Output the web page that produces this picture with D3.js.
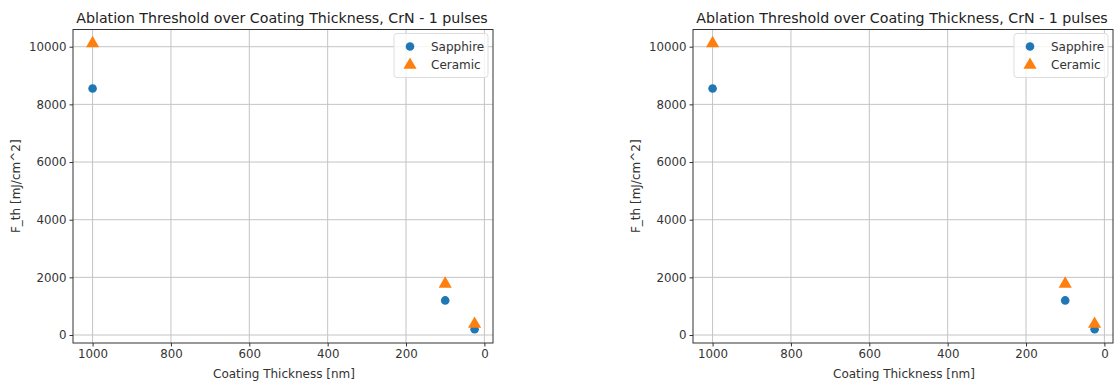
<!DOCTYPE html>
<html>
<head>
<meta charset="utf-8">
<script src="https://cdn.jsdelivr.net/npm/d3@7"></script>
<style>
  body { margin: 0; background: #fff; }
  svg { display: block; font-family: "DejaVu Sans", sans-serif; }
</style>
</head>
<body>
<svg id="chart" width="1116" height="383"></svg>
<script>
const thickness = [1000, 100, 25];
const sapphire = [8550, 1200, 200];
const ceramic = [10130, 1790, 400];
const xTicks = [1000, 800, 600, 400, 200, 0];
const yTicks = [0, 2000, 4000, 6000, 8000, 10000];
const seriesNames = ["Sapphire", "Ceramic"];
const titleText = "Ablation Threshold over Coating Thickness, CrN - 1 pulses";
const xLabel = "Coating Thickness [nm]";
const yLabel = "F_th [mJ/cm^2]";

const svg = d3.select("#chart");
const panelOffsets = [0, 620];
const blue = "#1f77b4", orange = "#ff7f0e";

panelOffsets.forEach(off => {
  const left = 73 + off, right = 493 + off, top = 29.5, bottom = 343;
  const x = d3.scaleLinear().domain([1050, -22]).range([left, right]);
  const y = d3.scaleLinear().domain([-277, 10597]).range([bottom, top]);
  const g = svg.append("g");

  // grid
  g.selectAll(".gx").data(xTicks).join("line")
    .attr("x1", d => x(d)).attr("x2", d => x(d))
    .attr("y1", top).attr("y2", bottom)
    .attr("stroke", "#c4c4c4").attr("stroke-width", 1);
  g.selectAll(".gy").data(yTicks).join("line")
    .attr("y1", d => y(d)).attr("y2", d => y(d))
    .attr("x1", left).attr("x2", right)
    .attr("stroke", "#c4c4c4").attr("stroke-width", 1);

  // axes
  const fmt = d3.format("d");
  const xAxis = d3.axisBottom(x).tickValues(xTicks).tickFormat(fmt).tickSize(3.5).tickPadding(3);
  const yAxis = d3.axisLeft(y).tickValues(yTicks).tickFormat(fmt).tickSize(3.5).tickPadding(3);
  const gx = g.append("g").attr("transform", `translate(0,${bottom})`).call(xAxis);
  const gy = g.append("g").attr("transform", `translate(${left},0)`).call(yAxis);
  [gx, gy].forEach(a => {
    a.select(".domain").remove();
    a.selectAll("line").attr("stroke", "#333");
    a.selectAll("text").attr("fill", "#333").style("font-size", "11.8px")
      .style("font-family", "DejaVu Sans, sans-serif");
  });

  // frame
  g.append("rect").attr("x", left).attr("y", top)
    .attr("width", right - left).attr("height", bottom - top)
    .attr("fill", "none").attr("stroke", "#333").attr("stroke-width", 1);

  // data
  const tri = d3.symbol().type(d3.symbolTriangle).size(75);
  g.selectAll(".s").data(thickness).join("circle")
    .attr("cx", d => x(d)).attr("cy", (d, i) => y(sapphire[i]))
    .attr("r", 4.3).attr("fill", blue);
  g.selectAll(".c").data(thickness).join("path")
    .attr("d", tri)
    .attr("transform", (d, i) => `translate(${x(d)},${y(ceramic[i]) + 0.5})`)
    .attr("fill", orange);

  // title / labels
  g.append("text").attr("x", (left + right) / 2 - 1).attr("y", 23)
    .attr("text-anchor", "middle").attr("fill", "#222")
    .style("font-size", "14.2px").text(titleText);
  g.append("text").attr("x", (left + right) / 2 + 1).attr("y", 378)
    .attr("text-anchor", "middle").attr("fill", "#333")
    .style("font-size", "12px").text(xLabel);
  g.append("text")
    .attr("transform", `translate(${left - 53},${(top + bottom) / 2}) rotate(-90)`)
    .attr("text-anchor", "middle").attr("fill", "#333")
    .style("font-size", "12px").text(yLabel);

  // legend
  const lg = g.append("g").attr("transform", `translate(${right - 99},${top + 4})`);
  lg.append("rect").attr("width", 94).attr("height", 44).attr("rx", 3)
    .attr("fill", "rgba(255,255,255,0.8)").attr("stroke", "#ddd");
  seriesNames.forEach((name, i) => {
    const cy = 13 + i * 18;
    if (i === 0) {
      lg.append("circle").attr("cx", 16).attr("cy", cy).attr("r", 4.3).attr("fill", blue);
    } else {
      lg.append("path").attr("d", tri).attr("transform", `translate(16,${cy + 0.5})`).attr("fill", orange);
    }
    lg.append("text").attr("x", 37).attr("y", cy + 4).attr("fill", "#333")
      .style("font-size", "12px").text(name);
  });
});
</script>
</body>
</html>
